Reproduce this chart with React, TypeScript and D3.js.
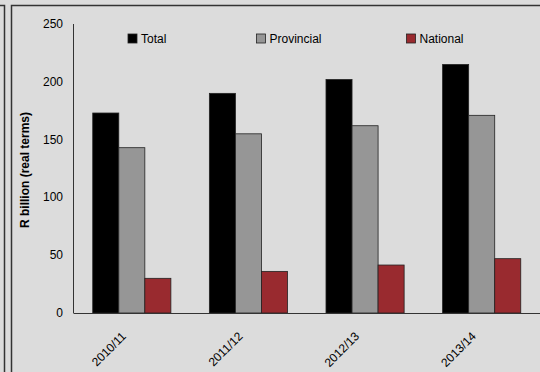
import React from "react";
import * as d3 from "d3";

const categories = ["2010/11", "2011/12", "2012/13", "2013/14"];
const seriesNames = ["Total", "Provincial", "National"];
const totalValues = [173, 190, 202, 215];
const provincialValues = [143, 155, 162, 171];
const nationalValues = [30, 36, 41.5, 47];
const yTicks = [0, 50, 100, 150, 200, 250];
const colors = ["#000000", "#969696", "#992a2f"];

const W = 540;
const H = 372;

export default function App() {
  const series = [totalValues, provincialValues, nationalValues];
  const x0 = d3.scaleBand<string>().domain(categories).range([73.5, 540]).paddingInner(0.33).paddingOuter(0.165);
  const x1 = d3.scaleBand<string>().domain(seriesNames).range([0, x0.bandwidth()]);
  const y = d3.scaleLinear().domain([0, 250]).range([313, 24]);
  const font = "Liberation Sans, Arial, sans-serif";
  const legendX = [128, 256.5, 406.5];

  return (
    <svg
      width={W}
      height={H}
      style={{ position: "absolute", left: 0, top: 0, display: "block" }}
      fontFamily={font}
    >
      <rect x={0} y={0} width={W} height={H} fill="#dcdcdc" />
      {/* frames */}
      <path d="M0,5.5 H4.5 V372" fill="none" stroke="#333" strokeWidth={1.5} />
      <path d="M11.5,372 V5.5 H540" fill="none" stroke="#333" strokeWidth={1.5} />

      {/* bars */}
      {categories.map((c, i) => (
        <g key={c} transform={`translate(${x0(c)},0)`}>
          {series.map((vals, s) => (
            <rect
              key={s}
              x={x1(seriesNames[s])}
              y={y(vals[i])}
              width={x1.bandwidth()}
              height={y(0) - y(vals[i])}
              fill={colors[s]}
              stroke="#222"
              strokeWidth={0.8}
            />
          ))}
        </g>
      ))}

      {/* axes */}
      <line x1={73.5} x2={73.5} y1={24} y2={313} stroke="#333" strokeWidth={1} />
      <line x1={73.5} x2={540} y1={313.5} y2={313.5} stroke="#333" strokeWidth={1} />

      {yTicks.map((t) => (
        <text key={t} x={63} y={y(t) + 4} textAnchor="end" fontSize={12} fill="#000">
          {t}
        </text>
      ))}

      {categories.map((c) => {
        const cx = (x0(c) as number) + x0.bandwidth() / 2 - 5;
        const cy = 337;
        return (
          <text
            key={c}
            x={cx}
            y={cy}
            textAnchor="end"
            fontSize={12}
            fill="#000"
            transform={`rotate(-45 ${cx} ${cy})`}
          >
            {c}
          </text>
        );
      })}

      <text
        transform="translate(29,170) rotate(-90)"
        textAnchor="middle"
        fontSize={12}
        fontWeight="bold"
        fill="#000"
      >
        R billion (real terms)
      </text>

      {/* legend */}
      {seriesNames.map((n, s) => (
        <g key={n}>
          <rect x={legendX[s]} y={34} width={9} height={9} fill={colors[s]} stroke="#222" strokeWidth={0.8} />
          <text x={legendX[s] + 13} y={43} fontSize={12} fill="#000">
            {n}
          </text>
        </g>
      ))}
    </svg>
  );
}
